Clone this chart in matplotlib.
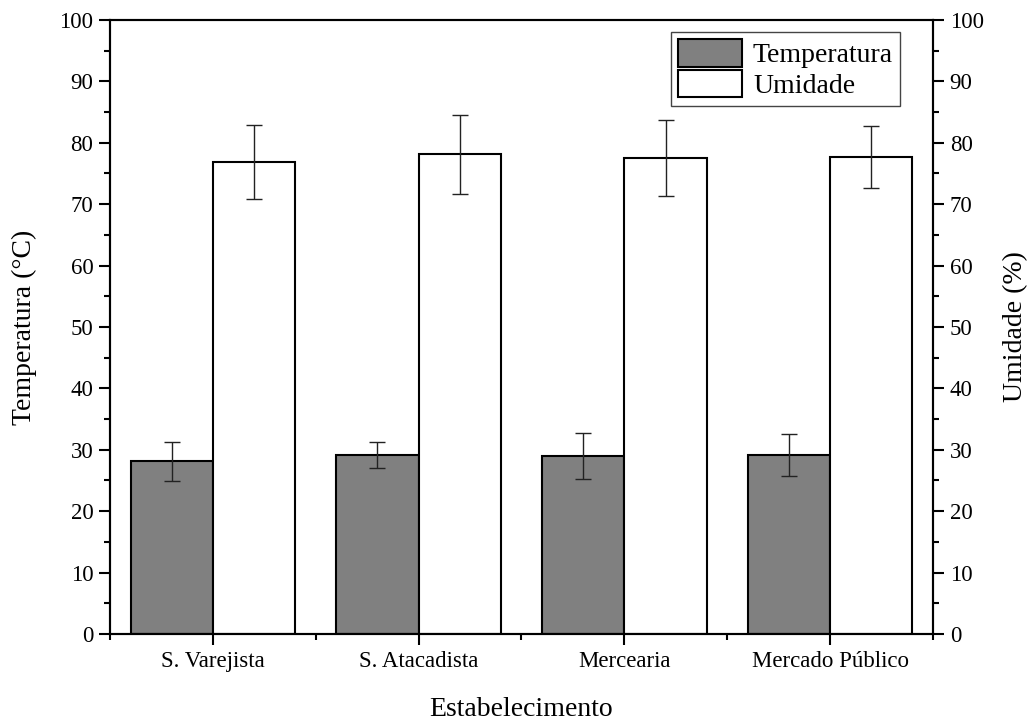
import matplotlib
matplotlib.use("Agg")
import matplotlib.pyplot as plt
import numpy as np
from matplotlib.ticker import MultipleLocator, FixedLocator

plt.rcParams['font.family'] = ['Liberation Serif', 'DejaVu Serif']

categories = ["S. Varejista", "S. Atacadista", "Mercearia", "Mercado Público"]
temperatura = [28.1, 29.2, 29.0, 29.2]
temperatura_err = [3.2, 2.1, 3.7, 3.4]
umidade = [76.9, 78.1, 77.5, 77.7]
umidade_err = [6.0, 6.4, 6.2, 5.1]

fig = plt.figure(figsize=(10.3, 7.22), dpi=100)
ax = fig.add_axes([0.1068, 0.1219, 0.7990, 0.8504])

x = np.arange(1, len(categories) + 1)
w = 0.4
ekw = dict(elinewidth=1.0, capthick=1.0, ecolor='#222222')
ax.bar(x - w / 2, temperatura, width=w, color='#808080', edgecolor='black',
       linewidth=1.5, yerr=temperatura_err, capsize=6, error_kw=ekw,
       label='Temperatura', zorder=2)
ax.bar(x + w / 2, umidade, width=w, color='white', edgecolor='black',
       linewidth=1.5, yerr=umidade_err, capsize=6, error_kw=ekw,
       label='Umidade', zorder=2)

ax.set_xlim(0.5, len(categories) + 0.5)
ax.set_ylim(0, 100)
ax.set_xticks(x)
ax.set_xticklabels(categories, fontsize=16.5)
ax.xaxis.set_minor_locator(FixedLocator(np.arange(0.5, len(categories) + 1, 1.0)))
ax.yaxis.set_major_locator(MultipleLocator(10))
ax.yaxis.set_minor_locator(MultipleLocator(5))
ax.tick_params(axis='both', which='major', direction='out', length=8, width=1.5,
               labelsize=16.5, pad=4)
ax.tick_params(axis='both', which='minor', direction='out', length=4, width=1.5)
ax.tick_params(axis='x', top=False)
for s in ax.spines.values():
    s.set_linewidth(1.5)

ax.set_xlabel('Estabelecimento', fontsize=20, labelpad=18)
ax.set_ylabel('Temperatura (°C)', fontsize=20, labelpad=16)

ax2 = ax.twinx()
ax2.set_ylim(0, 100)
ax2.yaxis.set_major_locator(MultipleLocator(10))
ax2.yaxis.set_minor_locator(MultipleLocator(5))
ax2.tick_params(axis='y', which='major', direction='out', length=8, width=1.5,
                labelsize=16.5, pad=4)
ax2.tick_params(axis='y', which='minor', direction='out', length=4, width=1.5)
for s in ax2.spines.values():
    s.set_linewidth(1.5)
ax2.set_ylabel('Umidade (%)', fontsize=20, labelpad=14)

leg = ax.legend(loc='upper right', bbox_to_anchor=(0.960, 0.980), fontsize=20,
                fancybox=False, framealpha=1, edgecolor='#444444',
                handlelength=2.3, handleheight=1.15, handletextpad=0.4,
                borderpad=0.25, labelspacing=0.05, borderaxespad=0)
leg.get_frame().set_linewidth(1.0)

fig.savefig('out.png', dpi=100)
